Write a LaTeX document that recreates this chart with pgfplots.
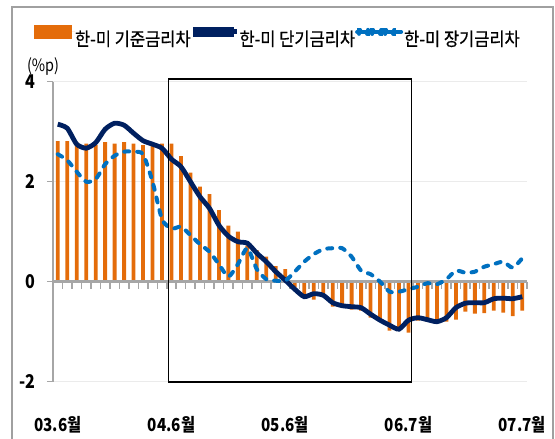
\documentclass[border=0pt]{standalone}
\usepackage{pgfplots}
\pgfplotsset{compat=1.18}
\usepackage{pgfplotstable}
\usepackage{fontspec}
\setmainfont{Noto Sans CJK KR}[FakeStretch=0.85]
\newfontfamily\krfont{Noto Sans CJK KR}[FakeStretch=0.85]
\newfontfamily\krleg{Noto Sans CJK KR}[FakeStretch=0.9, FakeBold=0.6]
\definecolor{barorange}{HTML}{E46C0A}
\definecolor{navyline}{HTML}{002060}
\definecolor{blueline}{HTML}{0070C0}
\definecolor{axgray}{HTML}{A6A6A6}
\definecolor{gridgray}{HTML}{EBEBEB}
\definecolor{framegray}{HTML}{A0A0A0}

\pgfplotstableread{
x y
0 2.81
1 2.81
2 2.78
3 2.76
4 2.73
5 2.79
6 2.76
7 2.79
8 2.76
9 2.73
10 2.72
11 2.76
12 2.76
13 2.51
14 2.18
15 1.90
16 1.75
17 1.43
18 1.12
19 1.00
20 0.72
21 0.63
22 0.50
23 0.31
24 0.25
25 -0.12
26 -0.30
27 -0.36
28 -0.25
29 -0.50
30 -0.50
31 -0.56
32 -0.58
33 -0.72
34 -0.78
35 -0.98
36 -0.93
37 -1.02
38 -0.78
39 -0.80
40 -0.82
41 -0.80
42 -0.76
43 -0.60
44 -0.64
45 -0.63
46 -0.58
47 -0.62
48 -0.69
49 -0.58
}\basetable

\pgfplotstableread{
x y
0 3.15
1 3.07
2 2.75
3 2.67
4 2.78
5 3.05
6 3.17
7 3.13
8 2.97
9 2.82
10 2.75
11 2.67
12 2.45
13 2.30
14 2.00
15 1.70
16 1.47
17 1.13
18 0.91
19 0.80
20 0.77
21 0.57
22 0.40
23 0.20
24 0.03
25 -0.15
26 -0.30
27 -0.24
28 -0.27
29 -0.42
30 -0.48
31 -0.50
32 -0.52
33 -0.65
34 -0.77
35 -0.87
36 -0.95
37 -0.77
38 -0.72
39 -0.76
40 -0.80
41 -0.72
42 -0.52
43 -0.43
44 -0.42
45 -0.42
46 -0.34
47 -0.33
48 -0.34
49 -0.30
}\shorttable

\pgfplotstableread{
x y
0 2.55
1 2.43
2 2.20
3 2.00
4 2.05
5 2.35
6 2.52
7 2.60
8 2.60
9 2.55
10 2.00
11 1.25
12 1.06
13 1.10
14 0.93
15 0.75
16 0.60
17 0.35
18 0.10
19 0.35
20 0.67
21 0.25
22 0.05
23 0.02
24 0.02
25 0.20
26 0.40
27 0.55
28 0.65
29 0.67
30 0.67
31 0.50
32 0.22
33 0.15
34 0.00
35 -0.20
36 -0.20
37 -0.15
38 -0.10
39 -0.03
40 -0.05
41 0.05
42 0.22
43 0.18
44 0.20
45 0.30
46 0.35
47 0.40
48 0.28
49 0.47
}\longtable

\begin{document}
\begin{tikzpicture}
\useasboundingbox (0,0) rectangle (555bp,439bp);
\draw[framegray, line width=1.5bp] (12bp,-20bp) rectangle (553bp,432bp);
\node[font=\krfont\fontsize{17}{17}\selectfont] at (43bp,372bp) {(\%p)};
\begin{axis}[
  at={(53bp,57.3bp)}, anchor=south west,
  scale only axis, width=474bp, height=300bp,
  xmin=-0.5, xmax=49.5, ymin=-2, ymax=4,
  clip=false,
  axis x line=bottom, axis y line=left,
  x axis line style={draw=none},
  y axis line style={axgray, line width=2bp, -},
  xtick={0,12,24,37,49},
  xticklabels={03.6월,04.6월,05.6월,06.7월,07.7월},
  x tick style={draw=none},
  xticklabel style={font=\krfont\bfseries\fontsize{18}{18}\selectfont, yshift=-25bp},
  ytick={-2,0,2,4},
  yticklabels={{-2},0,2,4},
  y tick style={axgray, line width=1.5bp},
  tick align=outside, major tick length=6bp,
  yticklabel style={font=\krfont\bfseries\fontsize{19}{19}\selectfont, xshift=-8bp},
  ymajorgrids, grid style={gridgray, line width=1.5bp},
  legend columns=3,
  legend style={draw=none, fill=none, at={(-0.0401,1.1523)}, anchor=west,
    inner sep=0pt, outer sep=0pt,
    font=\krleg\fontsize{18.4}{18.4}\selectfont,
    nodes={inner sep=0pt},
    /tikz/every odd column/.append style={column sep=0bp},
    /tikz/every even column/.append style={column sep=0bp}},
]
\addplot[ybar, bar width=3.8bp, fill=barorange, draw=none,
  legend image code/.code={\fill[barorange] (0bp,0bp) rectangle (38bp,14bp); \path (0bp,7bp) -- (41bp,7bp);}]
  table[x=x, y=y] {\basetable};
\addlegendentry{한-미 기준금리차}
\draw[axgray, line width=3.5bp] (axis cs:-0.5,0) -- (axis cs:49.5,0);
\pgfplotsinvokeforeach{-0.5,0.5,...,49.5}{
  \draw[axgray, line width=1.5bp] (axis cs:#1,0) -- ++(0bp,-7.5bp);
}
\addplot[navyline, line width=4.8bp, smooth, tension=0.4, no marks,
  legend image code/.code={\fill[navyline] (0bp,4.6bp) rectangle (37bp,9.4bp); \path (-2bp,7bp) -- (42bp,7bp);}]
  table[x=x, y=y] {\shorttable};
\addlegendentry{한-미 단기금리차}
\addplot[blueline, line width=4bp, smooth, tension=0.4, no marks, line cap=round, dash pattern=on 5bp off 8bp,
  legend image code/.code={\fill[blueline] (0bp,5bp) rectangle (9bp,9bp);
    \fill[blueline] (13bp,5bp) rectangle (22bp,9bp);
    \fill[blueline] (26bp,5bp) rectangle (35bp,9bp);
    \path (-2bp,7bp) -- (43bp,7bp);}]
  table[x=x, y=y] {\longtable};
\addlegendentry{한-미 장기금리차}
\draw[black, line width=1.6bp] (axis cs:11.7,-2) rectangle (axis cs:37.3,4.06);
\end{axis}
\end{tikzpicture}
\end{document}
